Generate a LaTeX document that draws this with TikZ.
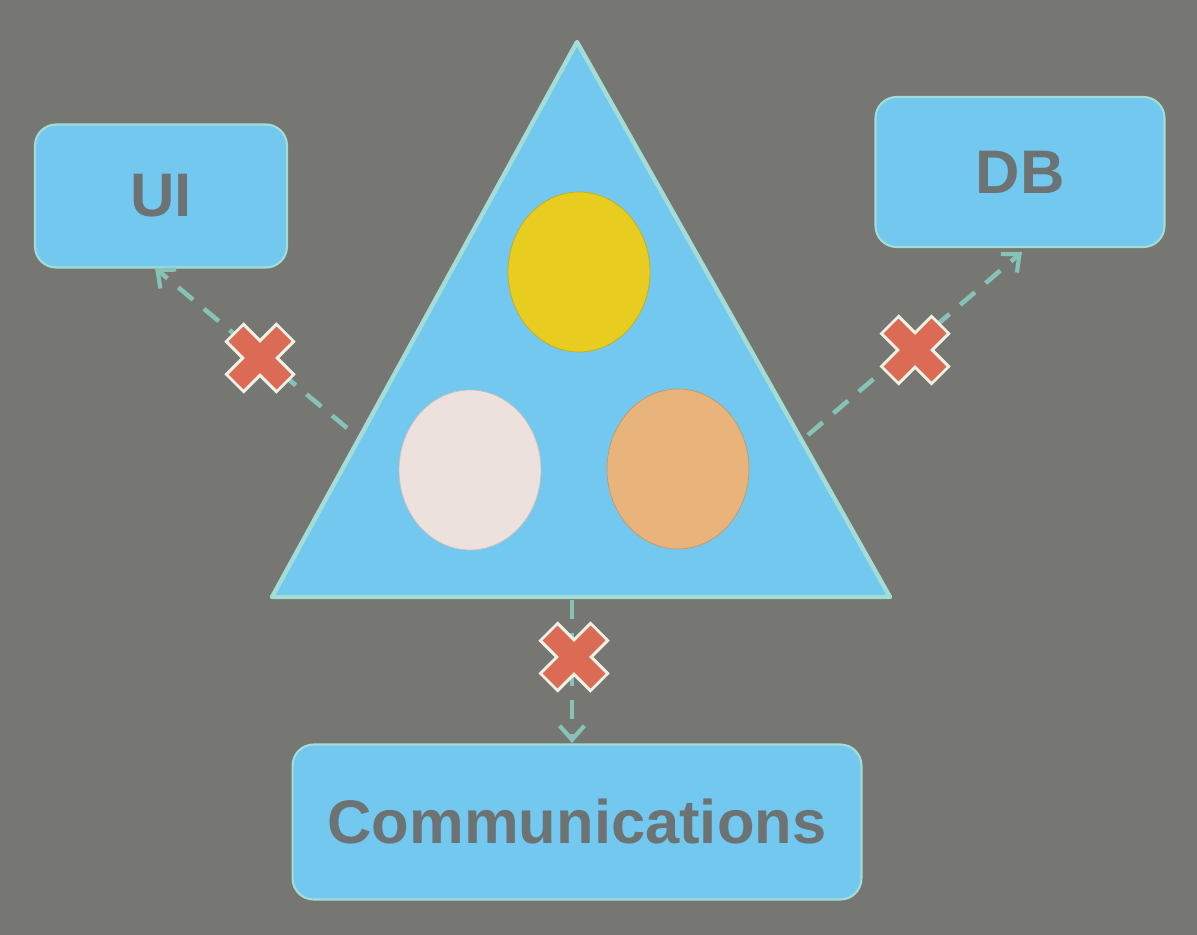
\documentclass[tikz,border=0pt]{standalone}
\usepackage{fontspec}
\setmainfont{Liberation Sans}
\usetikzlibrary{arrows.meta,shapes.geometric}
\definecolor{wall}{HTML}{767772}
\definecolor{skyblue}{HTML}{72C8EF}
\definecolor{rim}{HTML}{A4DDD6}
\definecolor{label}{HTML}{6D7272}
\definecolor{dashcol}{HTML}{86C2B6}
\definecolor{xred}{HTML}{DC6B55}
\definecolor{xwhite}{HTML}{EEF2E6}
\definecolor{gold}{HTML}{E8CC1F}
\definecolor{blush}{HTML}{EDE1DD}
\definecolor{peach}{HTML}{E9B37C}

\begin{document}
\begin{tikzpicture}
    [x=0.02cm,y=-0.02cm,
     box/.style={rectangle,rounded corners=12pt,fill=skyblue,draw=rim,line width=1.2pt,
                 inner sep=0pt,text=label,font=\fontsize{35}{40}\selectfont\bfseries},
     dot/.style={ellipse,minimum width=2.84cm,minimum height=3.2cm,inner sep=0pt},
     link/.style={draw=dashcol,line width=2.6pt,dash pattern=on 11pt off 8pt,
                  -{Straight Barb[length=8pt,width=14pt,line width=2.4pt]}},
     xrim/.style={draw=xwhite,line width=15.5pt},
     xfill/.style={draw=xred,line width=12pt}]
    % wall
    \fill[wall] (0,0) rectangle (1197,935);

    % triangle with the three parts
    \filldraw[fill=skyblue,draw=rim,line width=2.5pt,line join=round]
        (577,42) -- (890,597) -- (272,597) -- cycle;
    \node[dot,fill=gold,draw=gold!85!black] (core) at (579,272) {};
    \node[dot,fill=blush,draw=blush!85!black] (left) at (470,470) {};
    \node[dot,fill=peach,draw=peach!85!black] (right) at (678,469) {};

    % outer layers
    \node[box,minimum width=5.04cm,minimum height=2.86cm] (ui) at (161,196) {UI};
    \node[box,minimum width=5.78cm,minimum height=3.0cm] (db) at (1020,172) {DB};
    \node[box,minimum width=11.38cm,minimum height=3.1cm] (com) at (577,822) {Communications};

    % links
    \coordinate (tUI) at (347,428);
    \coordinate (tDB) at (808,435);
    \coordinate (tCom) at (572,600);
    \coordinate (uiTip) at (155,268);
    \coordinate (dbTip) at (1022,252);
    \coordinate (comTip) at (572,743);
    \draw[link] (tUI) -- (uiTip);
    \draw[link] (tDB) -- (dbTip);
    \draw[link] (tCom) -- (comTip);

    % not allowed
    \coordinate (xui) at (260,358);
    \coordinate (xdb) at (915,350);
    \coordinate (xcom) at (574,657);
    \foreach \c in {xui,xdb,xcom} {
        \draw[xrim] ([shift={(-26,-26)}]\c) -- ([shift={(26,26)}]\c)
                    ([shift={(-26,26)}]\c) -- ([shift={(26,-26)}]\c);
        \draw[xfill] ([shift={(-24,-24)}]\c) -- ([shift={(24,24)}]\c)
                     ([shift={(-24,24)}]\c) -- ([shift={(24,-24)}]\c);
    }
\end{tikzpicture}
\end{document}
